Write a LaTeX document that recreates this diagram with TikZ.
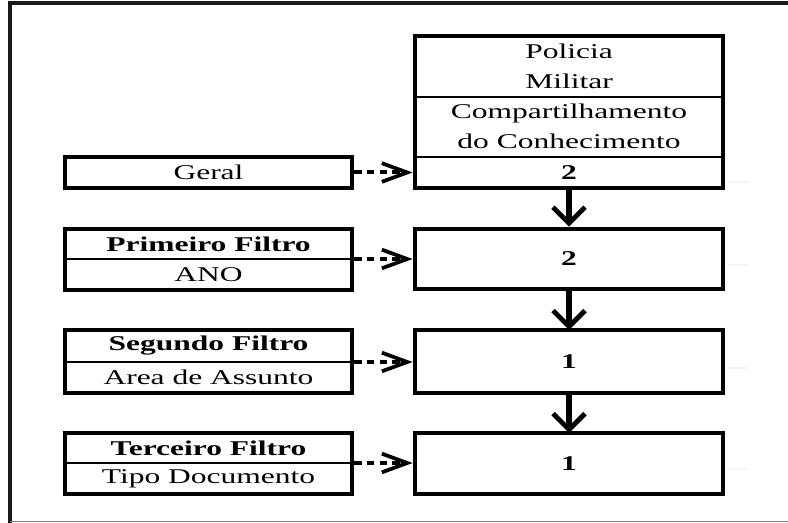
\documentclass[tikz,border=0pt]{standalone}
\usepackage{fontspec}
\setmainfont{Liberation Serif}[FakeStretch=1.5]
\usetikzlibrary{arrows.meta}
\begin{document}
\begin{tikzpicture}[x=0.75pt,y=-0.75pt,
  txt/.style={font=\fontsize{15.75}{22.5}\selectfont, align=center, inner sep=0pt, outer sep=0pt},
  rcell/.style={txt, minimum width=231pt, minimum height=#1},
  lcell/.style={txt, minimum width=215.25pt, minimum height=#1},
  outerbox/.style={draw, line width=3.6pt},
  innerline/.style={draw, line width=2.2pt},
  thinline/.style={draw, line width=1.3pt},
  dasharrow/.style={line width=3pt, dash pattern=on 5.5pt off 4pt,
    -{Straight Barb[length=19pt,width=14pt,line width=2.8pt]}},
  downarrow/.style={line width=4pt,
    -{Straight Barb[length=12pt,width=24pt,line width=3.6pt]}},
  ghost/.style={draw=gray!8, line width=1pt}]
\useasboundingbox (0,0) rectangle (788,523);

% frame
\draw[line width=2.4pt, black!90] (788,3) -- (10,3) -- (10,523);
\draw[line width=1.4pt, gray] (10,521.5) -- (788,521.5);

% right column
\node[rcell=45.75pt] (R0a) at (569,66.5) {Policia\\Militar};
\node[rcell=45.75pt] (R0b) at (569,126.5) {Compartilhamento\\do Conhecimento};
\node[rcell=23.25pt] (R0c) at (569,172.5) {\textbf{2}};
\draw[innerline] (R0a.south west) -- (R0a.south east);
\draw[innerline] (R0b.south west) -- (R0b.south east);
\draw[outerbox] (R0a.north west) rectangle (R0c.south east);

\node[rcell=45pt, outerbox] (R1) at (569,259) {\textbf{2}};
\node[rcell=47.25pt, outerbox] (R2) at (569,361.5) {\textbf{1}};
\node[rcell=45.75pt, outerbox] (R3) at (569,463.5) {\textbf{1}};

% left column
\node[lcell=23.25pt, outerbox] (L0) at (208.5,172.5) {Geral};

\node[lcell=22.5pt] (L1a) at (208.5,244) {\textbf{Primeiro Filtro}};
\node[lcell=23.25pt] (L1b) at (208.5,274.5) {ANO};
\draw[thinline] (L1a.south west) -- (L1a.south east);
\draw[outerbox] (L1a.north west) rectangle (L1b.south east);

\node[lcell=24pt] (L2a) at (208.5,346) {\textbf{Segundo Filtro}};
\node[lcell=23.25pt] (L2b) at (208.5,377.5) {Area de Assunto};
\draw[thinline] (L2a.south west) -- (L2a.south east);
\draw[outerbox] (L2a.north west) rectangle (L2b.south east);

\node[lcell=22.5pt] (L3a) at (208.5,448) {\textbf{Terceiro Filtro}};
\node[lcell=23.25pt] (L3b) at (208.5,478.5) {Tipo Documento};
\draw[thinline] (L3a.south west) -- (L3a.south east);
\draw[outerbox] (L3a.north west) rectangle (L3b.south east);

% connectors
\draw[dasharrow] ([xshift=1.8pt]L0.east) -- ([xshift=-1.8pt]L0.east -| R0c.west);
\draw[dasharrow] ([xshift=1.8pt]L1a.south east) -- ([xshift=-1.8pt]L1a.south east -| R1.west);
\draw[dasharrow] ([xshift=1.8pt]L2a.south east) -- ([xshift=-1.8pt]L2a.south east -| R2.west);
\draw[dasharrow] ([xshift=1.8pt]L3a.south east) -- ([xshift=-1.8pt]L3a.south east -| R3.west);

\draw[downarrow] ([yshift=-1.8pt]R0c.south) -- ([yshift=1.8pt]R1.north);
\draw[downarrow] (R1.south) -- (R2.north);
\draw[downarrow] (R2.south) -- (R3.north);

% faint residual lines
\draw[ghost] (727,182) -- (748,182);
\draw[ghost] (727,265) -- (748,265);
\draw[ghost] (727,368) -- (748,368);
\draw[ghost] (727,469) -- (748,469);
\end{tikzpicture}
\end{document}
